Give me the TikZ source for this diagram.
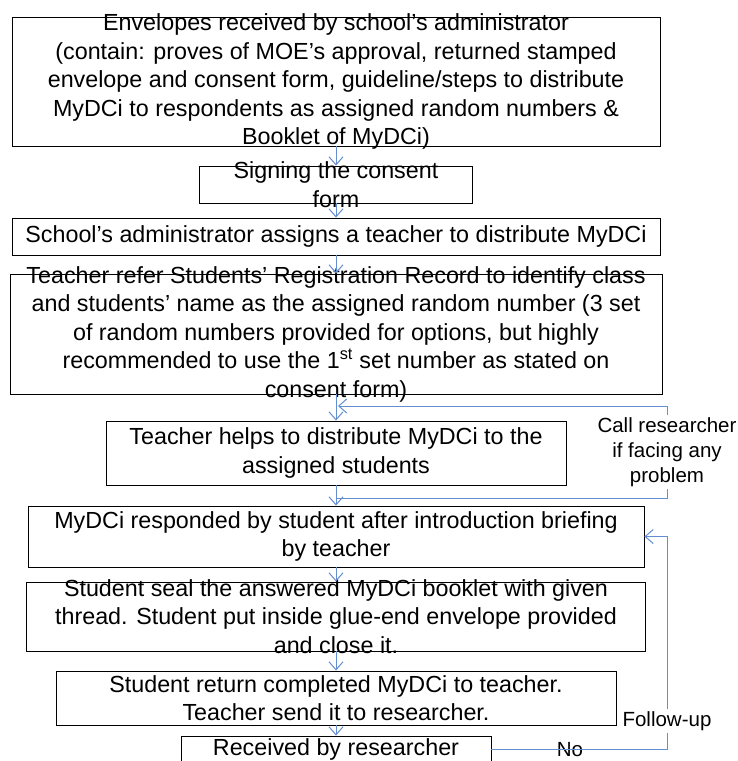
\documentclass[tikz,border=0pt]{standalone}
\usepackage{fontspec}
\setmainfont{Liberation Sans}
\usetikzlibrary{arrows.meta}
\definecolor{arrowblue}{RGB}{99,142,209}
\begin{document}
\begin{tikzpicture}[x=1pt,y=-1pt,
  box/.style={draw=black, line width=0.9pt, inner sep=0pt},
  txt/.style={font=\fontsize{23.3}{28.5}\selectfont, align=center, inner sep=0pt},
  lbl/.style={font=\fontsize{20.5}{25}\selectfont, align=center, inner sep=2pt},
  link/.style={draw=arrowblue, line width=1pt},
  arr/.style={link, -{Straight Barb[length=8pt,width=14pt]}}]
\useasboundingbox (0,0) rectangle (737,761);

\node[box, minimum width=648pt, minimum height=129pt,
  label={[txt]center:{Envelopes received by school’s administrator\\(contain: proves of MOE’s approval, returned stamped\\envelope and consent form, guideline/steps to distribute\\MyDCi to respondents as assigned random numbers \&\\Booklet of MyDCi)}}] (b1) at (336,81.5) {};
\node[box, minimum width=273pt, minimum height=37pt,
  label={[txt]center:{Signing the consent\\form}}] (b2) at (336,184.5) {};
\node[box, minimum width=648pt, minimum height=37pt,
  label={[txt]center:{School’s administrator assigns a teacher to distribute MyDCi}}] (b3) at (336,236.5) {};
\node[box, minimum width=652pt, minimum height=120pt,
  label={[txt]center:{Teacher refer Students’ Registration Record to identify class\\and students’ name as the assigned random number (3 set\\of random numbers provided for options, but highly\\recommended to use the 1\textsuperscript{st} set number as stated on\\consent form)}}] (b4) at (336,334) {};
\node[box, minimum width=460pt, minimum height=64pt,
  label={[txt]center:{Teacher helps to distribute MyDCi to the\\assigned students}}] (b5) at (336,453) {};
\node[box, minimum width=616pt, minimum height=61pt,
  label={[txt]center:{MyDCi responded by student after introduction briefing\\by teacher}}] (b6) at (336,536.5) {};
\node[box, minimum width=619pt, minimum height=69pt,
  label={[txt]center:{Student seal the answered MyDCi booklet with given\\thread. Student put inside glue-end envelope provided\\and close it.}}] (b7) at (336,616.5) {};
\node[box, minimum width=560pt, minimum height=54pt,
  label={[txt]center:{Student return completed MyDCi to teacher.\\Teacher send it to researcher.}}] (b8) at (336,698) {};
\node[box, minimum width=310pt, minimum height=26pt,
  label={[txt]center:{Received by researcher}}] (b9) at (336,749) {};

\draw[arr] (b1.south) -- (b2.north);
\draw[arr] (b2.south) -- (b3.north);
\draw[arr] (b3.south) -- (b4.north);
\draw[arr] (b4.south) -- (b5.north);
\draw[arr] (b5.south) -- (b6.north);
\draw[arr] (b6.south) -- (b7.north);
\draw[arr] (b7.south) -- (b8.north);
\draw[arr] (b8.south) -- (b9.north);

\node[lbl, fill=white] (call) at (667,452) {Call researcher\\if facing any\\problem};
\coordinate (j1) at (338,406);
\coordinate (j2) at (336,498);
\draw[arr] (call.north) |- (j1);
\draw[link] (call.south) |- (j2);

\node[lbl, fill=white] (fu) at (667,721) {Follow-up};
\node[lbl] (no) at (570,750) {No};
\draw[link] (b9.east) -| (fu.south);
\draw[arr] (fu.north) |- (b6.east);
\end{tikzpicture}
\end{document}
